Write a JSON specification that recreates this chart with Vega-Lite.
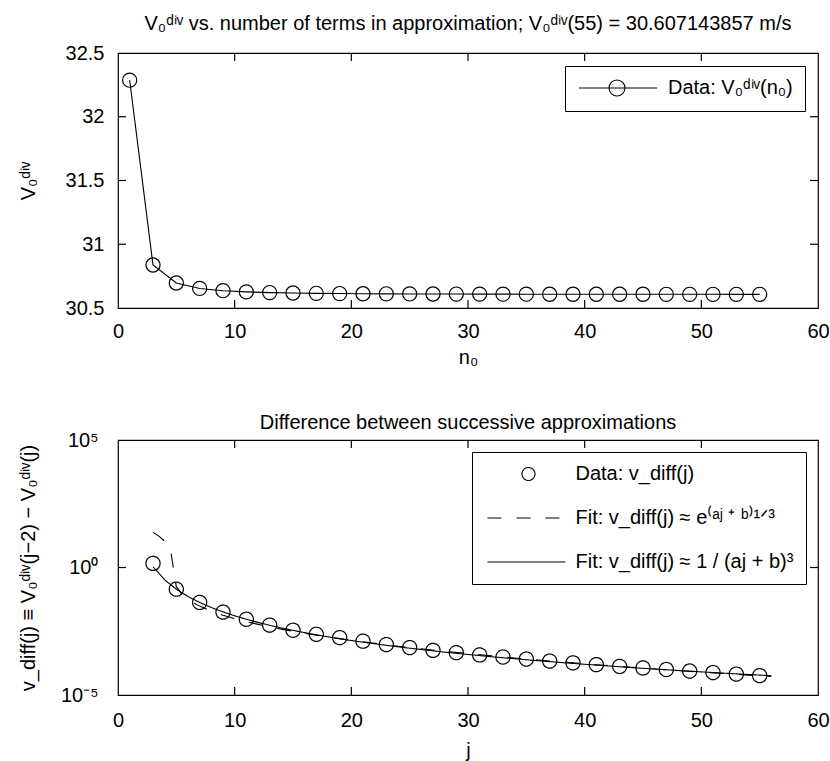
{
  "$schema": "https://vega.github.io/schema/vega-lite/v6.json",
  "background": "white",
  "padding": {"left": 17, "top": 13, "right": 5, "bottom": 0},
  "config": {
    "font": "Liberation Sans",
    "view": {"stroke": "black", "strokeWidth": 1.2},
    "axis": {"domain": false, "ticks": false, "tickSize": 0, "grid": false, "labelFontSize": 20, "labelColor": "black", "titleFontSize": 20, "titleFontWeight": "normal", "titleColor": "black", "labelFont": "Liberation Sans", "titleFont": "Liberation Sans", "labelFlush": false, "labelOverlap": false},
    "title": {"fontSize": 20, "fontWeight": "normal", "color": "black", "font": "Liberation Sans", "baseline": "alphabetic"},
    "legend": {"labelFontSize": 20, "labelColor": "black", "labelFont": "Liberation Sans", "labelLimit": 400},
    "concat": {"spacing": 44}
  },
  "resolve": {"scale": {"color": "independent", "shape": "independent", "strokeDash": "independent"}, "legend": {"color": "independent", "shape": "independent", "strokeDash": "independent"}},
  "datasets": {
    "xt": [{"t": 10}, {"t": 20}, {"t": 30}, {"t": 40}, {"t": 50}],
    "ytTop": [{"t": 31}, {"t": 31.5}, {"t": 32}],
    "ytBot": [{"t": 1}],
    "top": [
      {"n": 1, "V": 32.287}, {"n": 3, "V": 30.837}, {"n": 5, "V": 30.696}, {"n": 7, "V": 30.6535},
      {"n": 9, "V": 30.6357}, {"n": 11, "V": 30.6264}, {"n": 13, "V": 30.6209}, {"n": 15, "V": 30.6174},
      {"n": 17, "V": 30.615}, {"n": 19, "V": 30.6133}, {"n": 21, "V": 30.612}, {"n": 23, "V": 30.611},
      {"n": 25, "V": 30.6103}, {"n": 27, "V": 30.6097}, {"n": 29, "V": 30.6093}, {"n": 31, "V": 30.6089},
      {"n": 33, "V": 30.6086}, {"n": 35, "V": 30.6083}, {"n": 37, "V": 30.6081}, {"n": 39, "V": 30.6079},
      {"n": 41, "V": 30.6078}, {"n": 43, "V": 30.6077}, {"n": 45, "V": 30.6075}, {"n": 47, "V": 30.6074},
      {"n": 49, "V": 30.6073}, {"n": 51, "V": 30.6073}, {"n": 53, "V": 30.6072}, {"n": 55, "V": 30.6071}
    ],
    "pts": [
      {"j": 3, "v": 1.45}, {"j": 5, "v": 0.141}, {"j": 7, "v": 0.0427}, {"j": 9, "v": 0.0178},
      {"j": 11, "v": 0.00933}, {"j": 13, "v": 0.0055}, {"j": 15, "v": 0.00347}, {"j": 17, "v": 0.0024},
      {"j": 19, "v": 0.00178}, {"j": 21, "v": 0.00129}, {"j": 23, "v": 0.00095}, {"j": 25, "v": 0.000724},
      {"j": 27, "v": 0.000562}, {"j": 29, "v": 0.000457}, {"j": 31, "v": 0.000372}, {"j": 33, "v": 0.000309},
      {"j": 35, "v": 0.000257}, {"j": 37, "v": 0.000214}, {"j": 39, "v": 0.000182}, {"j": 41, "v": 0.000155},
      {"j": 43, "v": 0.000132}, {"j": 45, "v": 0.000115}, {"j": 47, "v": 0.0001}, {"j": 49, "v": 0.0000871},
      {"j": 51, "v": 0.0000759}, {"j": 53, "v": 0.0000661}, {"j": 55, "v": 0.0000575}
    ],
    "fitExp": [
      {"j": 3, "v": 23.9}, {"j": 3.5, "v": 17.0}, {"j": 4, "v": 10.75}, {"j": 4.5, "v": 4.95},
      {"j": 5, "v": 0.1766}, {"j": 5.5, "v": 0.0873}, {"j": 6, "v": 0.0563}, {"j": 6.5, "v": 0.0403},
      {"j": 7, "v": 0.0306}, {"j": 8, "v": 0.0195}, {"j": 9, "v": 0.0135}, {"j": 10, "v": 0.00991},
      {"j": 11, "v": 0.00753}, {"j": 12, "v": 0.00589}, {"j": 13, "v": 0.0047}, {"j": 14, "v": 0.00382},
      {"j": 15, "v": 0.00315}, {"j": 16, "v": 0.00262}, {"j": 18, "v": 0.00188}, {"j": 20, "v": 0.00139},
      {"j": 22, "v": 0.00106}, {"j": 24, "v": 0.00082}, {"j": 26, "v": 0.000647}, {"j": 28, "v": 0.000518},
      {"j": 30, "v": 0.000419}, {"j": 32, "v": 0.000344}, {"j": 34, "v": 0.000284}, {"j": 36, "v": 0.000237},
      {"j": 38, "v": 0.000199}, {"j": 40, "v": 0.000168}, {"j": 42, "v": 0.000143}, {"j": 44, "v": 0.000123},
      {"j": 46, "v": 0.000105}, {"j": 48, "v": 0.000091}, {"j": 50, "v": 0.0000791}, {"j": 52, "v": 0.000069},
      {"j": 54, "v": 0.0000603}, {"j": 56, "v": 0.000053}
    ],
    "fitPow": [
      {"j": 3, "v": 1.069}, {"j": 4, "v": 0.329}, {"j": 5, "v": 0.141}, {"j": 6, "v": 0.0729},
      {"j": 7, "v": 0.0426}, {"j": 8, "v": 0.027}, {"j": 9, "v": 0.01816}, {"j": 10, "v": 0.01276},
      {"j": 11, "v": 0.00931}, {"j": 12, "v": 0.00702}, {"j": 13, "v": 0.00541}, {"j": 14, "v": 0.00427},
      {"j": 15, "v": 0.00342}, {"j": 16, "v": 0.00279}, {"j": 17, "v": 0.0023}, {"j": 18, "v": 0.00191},
      {"j": 19, "v": 0.00161}, {"j": 20, "v": 0.00137}, {"j": 22, "v": 0.00102}, {"j": 24, "v": 0.000776},
      {"j": 26, "v": 0.000605}, {"j": 28, "v": 0.000481}, {"j": 30, "v": 0.000388}, {"j": 32, "v": 0.000318},
      {"j": 34, "v": 0.000263}, {"j": 36, "v": 0.000221}, {"j": 38, "v": 0.000187}, {"j": 40, "v": 0.00016},
      {"j": 42, "v": 0.000138}, {"j": 44, "v": 0.000119}, {"j": 46, "v": 0.000104}, {"j": 48, "v": 0.0000914},
      {"j": 50, "v": 0.0000807}, {"j": 52, "v": 0.0000716}, {"j": 54, "v": 0.0000638}, {"j": 56, "v": 0.000057}
    ]
  },
  "vconcat": [
    {
      "width": 700,
      "height": 255,
      "title": {"text": "V₀ᵈⁱᵛ vs. number of terms in approximation; V₀ᵈⁱᵛ(55) = 30.607143857 m/s", "offset": 9},
      "layer": [
        {
          "data": {"name": "top"},
          "mark": {"type": "line", "strokeWidth": 1.1},
          "encoding": {
            "x": {"field": "n", "type": "quantitative", "scale": {"domain": [0, 60], "nice": false},
                  "axis": {"values": [0, 10, 20, 30, 40, 50, 60], "title": "n₀", "labelPadding": 13, "titlePadding": 6}},
            "y": {"field": "V", "type": "quantitative", "scale": {"domain": [30.5, 32.5], "nice": false, "zero": false},
                  "axis": {"values": [30.5, 31, 31.5, 32, 32.5], "format": "~g", "title": "V₀ᵈⁱᵛ", "labelPadding": 14, "minExtent": 54, "maxExtent": 54, "titlePadding": 26}},
            "color": {"datum": "Data: V₀ᵈⁱᵛ(n₀)", "type": "nominal", "scale": {"range": ["black"]},
                      "legend": {"title": null, "orient": "top-right", "offset": 13, "symbolType": "M-1,0L8.75,0M4.75,0A1,1 0 1 1 2.75,0A1,1 0 1 1 4.75,0", "symbolSize": 256, "symbolStrokeWidth": 1.1, "symbolFillColor": "transparent", "symbolStrokeColor": "black", "labelOffset": 71, "padding": 12, "strokeColor": "black", "fillColor": "white"}}
          }
        },
        {
          "data": {"name": "top"},
          "mark": {"type": "point", "shape": "circle", "size": 200, "filled": false, "stroke": "black", "strokeWidth": 1.2, "opacity": 1},
          "encoding": {
            "x": {"field": "n", "type": "quantitative"},
            "y": {"field": "V", "type": "quantitative"}
          }
        },
        {
          "data": {"name": "xt"},
          "mark": {"type": "tick", "orient": "vertical", "size": 16, "thickness": 1.2, "color": "black", "opacity": 1, "clip": true},
          "encoding": {"x": {"field": "t", "type": "quantitative"}, "y": {"datum": 30.5, "type": "quantitative"}}
        },
        {
          "data": {"name": "xt"},
          "mark": {"type": "tick", "orient": "vertical", "size": 16, "thickness": 1.2, "color": "black", "opacity": 1, "clip": true},
          "encoding": {"x": {"field": "t", "type": "quantitative"}, "y": {"datum": 32.5, "type": "quantitative"}}
        },
        {
          "data": {"name": "ytTop"},
          "mark": {"type": "tick", "orient": "horizontal", "size": 16, "thickness": 1.2, "color": "black", "opacity": 1, "clip": true},
          "encoding": {"y": {"field": "t", "type": "quantitative"}, "x": {"datum": 0, "type": "quantitative"}}
        },
        {
          "data": {"name": "ytTop"},
          "mark": {"type": "tick", "orient": "horizontal", "size": 16, "thickness": 1.2, "color": "black", "opacity": 1, "clip": true},
          "encoding": {"y": {"field": "t", "type": "quantitative"}, "x": {"datum": 60, "type": "quantitative"}}
        }
      ]
    },
    {
      "width": 700,
      "height": 255,
      "title": {"text": "Difference between successive approximations", "offset": -3},
      "layer": [
        {
          "data": {"name": "pts"},
          "mark": {"type": "point", "size": 200, "filled": false, "stroke": "black", "strokeWidth": 1.2, "opacity": 1},
          "encoding": {
            "x": {"field": "j", "type": "quantitative", "scale": {"domain": [0, 60], "nice": false},
                  "axis": {"values": [0, 10, 20, 30, 40, 50, 60], "title": "j", "labelPadding": 15, "titlePadding": 10}},
            "y": {"field": "v", "type": "quantitative", "scale": {"type": "log", "domain": [0.00001, 100000], "nice": false},
                  "axis": {"values": [0.00001, 1, 100000], "labelExpr": "datum.value > 10 ? '10⁵' : datum.value < 0.1 ? '10⁻⁵' : '10⁰'", "title": "v_diff(j) ≡ V₀ᵈⁱᵛ(j−2) − V₀ᵈⁱᵛ(j)", "labelPadding": 20, "minExtent": 54, "maxExtent": 54, "titlePadding": 26}},
            "shape": {"datum": "Data: v_diff(j)", "type": "nominal",
                      "scale": {"domain": ["Data: v_diff(j)", "Fit: v_diff(j) ≈ e⁽ᵃʲ ⁺ ᵇ⁾¹ᐟ³", "Fit: v_diff(j) ≈ 1 / (aj + b)³"], "range": ["circle", "M-6.31,0L5.69,0", "M-6.31,0L5.69,0"]},
                      "legend": {"title": null, "orient": "top-right", "offset": 12, "symbolSize": 169, "symbolOffset": 34.5, "symbolStrokeWidth": 1.1, "symbolFillColor": "transparent", "symbolStrokeColor": "black", "labelOffset": 37, "padding": 12, "rowPadding": 24, "strokeColor": "black", "fillColor": "white"}},
            "strokeDash": {"datum": "Data: v_diff(j)", "type": "nominal",
                      "scale": {"domain": ["Data: v_diff(j)", "Fit: v_diff(j) ≈ e⁽ᵃʲ ⁺ ᵇ⁾¹ᐟ³", "Fit: v_diff(j) ≈ 1 / (aj + b)³"], "range": [[1, 0], [14, 15], [1, 0]]},
                      "legend": {"title": null, "orient": "top-right", "offset": 12, "symbolSize": 169, "symbolOffset": 34.5, "symbolStrokeWidth": 1.1, "symbolFillColor": "transparent", "symbolStrokeColor": "black", "labelOffset": 37, "padding": 12, "rowPadding": 24, "strokeColor": "black", "fillColor": "white"}}
          }
        },
        {
          "data": {"name": "fitExp"},
          "mark": {"type": "line", "strokeWidth": 1.1, "color": "black"},
          "encoding": {
            "x": {"field": "j", "type": "quantitative"},
            "y": {"field": "v", "type": "quantitative"},
            "strokeDash": {"datum": "Fit: v_diff(j) ≈ e⁽ᵃʲ ⁺ ᵇ⁾¹ᐟ³", "type": "nominal"}
          }
        },
        {
          "data": {"name": "fitPow"},
          "mark": {"type": "line", "strokeWidth": 1.1, "color": "black"},
          "encoding": {
            "x": {"field": "j", "type": "quantitative"},
            "y": {"field": "v", "type": "quantitative"},
            "strokeDash": {"datum": "Fit: v_diff(j) ≈ 1 / (aj + b)³", "type": "nominal"}
          }
        },
        {
          "data": {"name": "xt"},
          "mark": {"type": "tick", "orient": "vertical", "size": 16, "thickness": 1.2, "color": "black", "opacity": 1, "clip": true},
          "encoding": {"x": {"field": "t", "type": "quantitative"}, "y": {"datum": 0.00001, "type": "quantitative"}}
        },
        {
          "data": {"name": "xt"},
          "mark": {"type": "tick", "orient": "vertical", "size": 16, "thickness": 1.2, "color": "black", "opacity": 1, "clip": true},
          "encoding": {"x": {"field": "t", "type": "quantitative"}, "y": {"datum": 100000, "type": "quantitative"}}
        },
        {
          "data": {"name": "ytBot"},
          "mark": {"type": "tick", "orient": "horizontal", "size": 16, "thickness": 1.2, "color": "black", "opacity": 1, "clip": true},
          "encoding": {"y": {"field": "t", "type": "quantitative"}, "x": {"datum": 0, "type": "quantitative"}}
        },
        {
          "data": {"name": "ytBot"},
          "mark": {"type": "tick", "orient": "horizontal", "size": 16, "thickness": 1.2, "color": "black", "opacity": 1, "clip": true},
          "encoding": {"y": {"field": "t", "type": "quantitative"}, "x": {"datum": 60, "type": "quantitative"}}
        }
      ]
    }
  ]
}
